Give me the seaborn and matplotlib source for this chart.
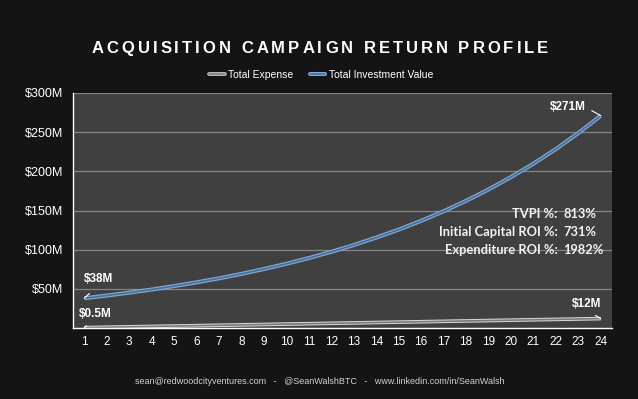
"""
Acquisition campaign return profile: expense vs investment value over 24 periods.
"""
import matplotlib
matplotlib.use("Agg")  # Non-interactive backend
import matplotlib.pyplot as plt
import matplotlib.patheffects as pe
from matplotlib import font_manager
from matplotlib.ft2font import FT2Font
from matplotlib.lines import Line2D
import pandas as pd
import seaborn as sns

# ── Data ──────────────────────────────────────────────────────────────────
periods = list(range(1, 25))
total_expense = [0.5, 1.0, 1.5, 2.0, 2.5, 3.0, 3.5, 4.0, 4.5, 5.0, 5.5, 6.0,
                 6.5, 7.0, 7.5, 8.0, 8.5, 9.0, 9.5, 10.0, 10.5, 11.0, 11.5, 12.0]
total_investment = [38.0, 41.4, 45.1, 49.1, 53.5, 58.3, 63.4, 69.1, 75.3, 82.0,
                    89.3, 97.2, 105.9, 115.4, 125.6, 136.8, 149.0, 162.3, 176.8,
                    192.6, 209.7, 228.4, 248.8, 271.0]
series_names = ["Total Expense", "Total Investment Value"]
y_ticks = [50, 100, 150, 200, 250, 300]
y_tick_labels = ["$50M", "$100M", "$150M", "$200M", "$250M", "$300M"]
stats_labels = ["TVPI %:", "Initial Capital ROI %:", "Expenditure ROI %:"]
stats_values = ["813%", "731%", "1982%"]
title = "ACQUISITION CAMPAIGN RETURN PROFILE"
footer = "sean@redwoodcityventures.com   -   @SeanWalshBTC   -   www.linkedin.com/in/SeanWalsh"

# ── Style ────────────────────────────────────────────────────────────────
BG = "#141414"
PLOT_BG = "#404040"
GRID = "#858585"
# (outer stroke, inner core, outer width) for the double-line look
LINE_STYLES = {
    "Total Expense": ("#d9d9d9", "#7a7a7a", 2.6),
    "Total Investment Value": ("#86a8cf", "#41709e", 2.9),
}

sns.set_style("dark")
plt.rcParams["font.family"] = ["Liberation Sans", "DejaVu Sans"]

W, H = 638, 399
fig = plt.figure(figsize=(W / 100, H / 100), dpi=100, facecolor=BG)
ax = fig.add_axes([73 / W, 1 - 328 / H, (612 - 73) / W, (328 - 93) / H])
ax.set_facecolor(PLOT_BG)

df = pd.DataFrame({
    "Period": periods,
    "Total Expense": total_expense,
    "Total Investment Value": total_investment,
}).melt(id_vars="Period", var_name="Series", value_name="Value")

palette = {name: LINE_STYLES[name][1] for name in series_names}
sns.lineplot(data=df, x="Period", y="Value", hue="Series", hue_order=series_names,
             palette=palette, linewidth=1.2, legend=False, ax=ax)


def double_line(name):
    outer, _, width = LINE_STYLES[name]
    return [pe.Stroke(linewidth=width, foreground=outer), pe.Normal()]


for line, name in zip(ax.lines, series_names):
    line.set_path_effects(double_line(name))
    line.set_solid_capstyle("butt")

# Axes
ax.set_xlim(0.5, 24.5)
ax.set_ylim(0, 300)
ax.set_xticks(periods)
ax.set_xticklabels([str(p) for p in periods])
ax.set_yticks(y_ticks)
ax.set_yticklabels(y_tick_labels)
ax.set_xlabel("")
ax.set_ylabel("")
ax.tick_params(axis="x", length=0, pad=6, labelsize=8.5, labelcolor="white")
ax.tick_params(axis="y", length=0, pad=7, labelsize=9, labelcolor="white")
ax.grid(axis="y", color=GRID, linewidth=0.9)
ax.grid(axis="x", visible=False)
for side in ["top", "right"]:
    ax.spines[side].set_visible(False)
for side in ["left", "bottom"]:
    ax.spines[side].set_visible(True)
    ax.spines[side].set_color("white")
    ax.spines[side].set_linewidth(1.0)
ax.set_axisbelow(True)

# Value callouts at the ends of each series
callouts = [
    (periods[0], total_investment[0], f"${total_investment[0]:.0f}M", (10, 13.5), (0.5, 0), 5),
    (periods[0], total_expense[0], f"${total_expense[0]:.1f}M", (8, 9.5), (0.5, 0), 3),
    (periods[-1], total_investment[-1], f"${total_investment[-1]:.0f}M", (-23.5, 6), (1, 0.5), 2),
    (periods[-1], total_expense[-1], f"${total_expense[-1]:.0f}M", (-10.5, 10.5), (0.5, 0), 3),
]
for x, y, label, offset, relpos, gap in callouts:
    ax.annotate(label, xy=(x, y), xytext=offset, textcoords="offset points",
                ha="center", va="center", fontsize=8.5, fontweight="bold", color="white",
                arrowprops=dict(arrowstyle="-", color="white", lw=0.8,
                                relpos=relpos, shrinkA=gap, shrinkB=0))

# Return metrics box
for i, (lab, val) in enumerate(zip(stats_labels, stats_values)):
    y = 1 - (214 + 18 * i) / H
    fig.text(558 / W, y, lab, ha="right", va="center", fontsize=9.3,
             fontweight="bold", color="#f2f2f2", family=["Lato", "DejaVu Sans"])
    fig.text(563 / W, y, val, ha="left", va="center", fontsize=9.3,
             fontweight="bold", color="#f2f2f2", family=["Lato", "DejaVu Sans"])


# Letter-spaced title (matplotlib has no tracking option, so place glyphs one by one)
def spaced_title(text, cx_px, y_frac, size, tracking_px):
    fpath = font_manager.findfont(font_manager.FontProperties(family="Liberation Sans",
                                                              weight="bold"))
    ft = FT2Font(fpath)
    ft.set_size(size, 100)
    adv = [ft.load_char(ord(c)).linearHoriAdvance / 65536 for c in text]
    total = sum(adv) + tracking_px * (len(text) - 1)
    x = cx_px - total / 2
    for c, a in zip(text, adv):
        fig.text((x + a / 2) / W, y_frac, c, ha="center", va="center", fontsize=size,
                 fontweight="bold", color="white")
        x += a + tracking_px


spaced_title(title, 320, 1 - 48.5 / H, 12, 3.0)

# Legend
handles = [Line2D([], [], color=LINE_STYLES[n][1], lw=1.2, path_effects=double_line(n))
           for n in series_names]
fig.legend(handles, series_names, loc="center", bbox_to_anchor=(321 / W, 1 - 75 / H),
           ncol=2, frameon=False, fontsize=7.5, labelcolor="white",
           handlelength=1.5, handletextpad=0.3, columnspacing=1.6)

fig.text(320 / W, 1 - 381 / H, footer, ha="center", va="center", fontsize=6.5,
         color="#d0d0d0")

fig.savefig("out.png", dpi=100, facecolor=BG)
plt.close(fig)
